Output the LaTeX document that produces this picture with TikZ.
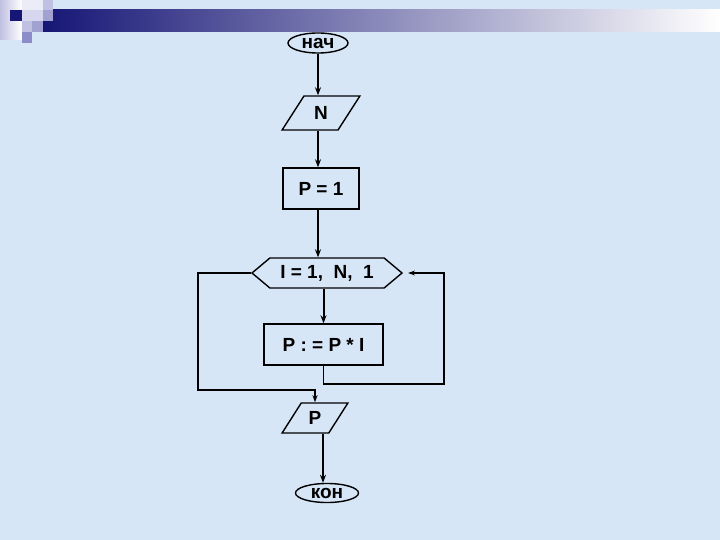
\documentclass[tikz,border=0pt]{standalone}
\usepackage{fontspec}
\setmainfont{Liberation Sans}
\usetikzlibrary{shapes.geometric,shapes.symbols,arrows.meta}
\definecolor{slidebg}{RGB}{214,230,246}
\definecolor{navy}{RGB}{22,22,118}
\definecolor{lavvl}{RGB}{236,236,248}
\definecolor{lavlt}{RGB}{214,214,238}
\definecolor{lavml}{RGB}{192,192,226}
\definecolor{lavmd}{RGB}{162,162,210}
\definecolor{lavdk}{RGB}{140,140,200}
\tikzset{
    elpwht/.style={ellipse,draw,line width=1.4pt,inner sep=0pt,minimum width=60pt,minimum height=20pt,font=\fontsize{19}{19}\selectfont\bfseries},
    prlwht/.style={trapezium,trapezium left angle=56,trapezium right angle=124,trapezium stretches=true,draw,line width=1.4pt,inner sep=0pt,minimum width=78pt,minimum height=34pt,font=\fontsize{19}{19}\selectfont\bfseries},
    recwht/.style={rectangle,draw,line width=1.4pt,inner sep=0pt,minimum height=41pt,font=\fontsize{19}{19}\selectfont\bfseries},
    hexwht/.style={signal,signal to=west and east,signal pointer angle=80,draw,line width=1.4pt,inner sep=0pt,minimum width=150pt,minimum height=30pt,font=\fontsize{19}{19}\selectfont\bfseries},
    flow/.style={line width=2pt,-{Stealth[length=8pt,width=6pt]}},
    loop/.style={line width=1.3pt}
}
\begin{document}
\begin{tikzpicture}[x=1pt,y=-1pt]
        \useasboundingbox (0,0) rectangle (720,540);
        %---
        \fill[slidebg] (0,0) rectangle (720,540);
        \shade[left color=lavml,right color=white] (0,0) rectangle (22,40);
        \shade[left color=navy,right color=white] (43,10) rectangle (720,32);
        \fill[navy] (10,10) rectangle (22,21);
        \fill[lavvl] (22,0) rectangle (43,10);
        \fill[lavml] (43,0) rectangle (53,10);
        \fill[lavlt] (22,10) rectangle (43,21);
        \fill[lavmd] (43,10) rectangle (53,21);
        \fill[lavml] (22,21) rectangle (32,32);
        \fill[lavmd] (32,21) rectangle (43,32);
        \fill[lavdk] (22,32) rectangle (32,43);

        %---
        \node[elpwht] (nach) at (318,43) {нач};
        \node[prlwht] (n-in) at (321,113) {N};
        \node[recwht,minimum width=76pt] (p-init) at (321,188.5) {P = 1};
        \node[hexwht] (i-loop) at (327,273) {I = 1,\ \ N,\ \ 1};
        \node[recwht,minimum width=119pt] (p-mult) at (323.5,344.5) {P : = P * I};
        \node[prlwht,minimum width=66pt,minimum height=30pt] (p-out) at (315,418) {P};
        \node[elpwht,minimum width=63pt,minimum height=19pt] (kon) at (327,493) {кон};

        \coordinate (lft) at (198,390);
        \coordinate (rgt) at (444,384);

        \begin{scope}[every path/.style={flow}]
            \draw (nach.south) -- (nach.south |- n-in.north);
            \draw (nach.south |- n-in.south) -- (nach.south |- p-init.north);
            \draw (nach.south |- p-init.south) -- (nach.south |- i-loop.north);
            \draw (p-mult.north |- i-loop.south) -- (p-mult.north);
            \draw ([xshift=8pt]p-out.south) -- ([xshift=8pt]p-out.south |- kon.north);
        \end{scope}
        \draw[loop,-{Stealth[length=7pt,width=5pt]}] (i-loop.west) -| (lft) -- (lft -| p-out.north) -- (p-out.north);
        \draw[loop,-{Stealth[length=7pt,width=5pt]},shorten >=5pt] (p-mult.south) |- (rgt) |- (i-loop.east);
    \end{tikzpicture}
\end{document}
